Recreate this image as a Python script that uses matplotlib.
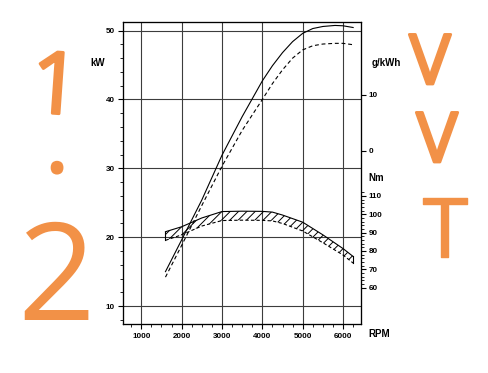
"""
plot.py - engine performance chart (power and torque over RPM).

Recreates a scanned spec-sheet chart: two power curves on the kW axis,
a hatched torque band on the Nm axis, and the handwritten "1.2 VVT" note.
"""

# === DECLARE IMPORTS ===

import matplotlib

matplotlib.use("Agg")

import matplotlib.patheffects as pe
import matplotlib.pyplot as plt
from matplotlib.ticker import FixedLocator, MultipleLocator

# === CHART DATA ===

power_rpm = [1600, 2000, 2500, 3000, 3500, 4000, 4250, 4500, 4750, 5000,
             5250, 5500, 5800, 6000, 6250]
power_solid = [15.0, 19.6, 25.4, 31.9, 37.5, 42.7, 44.9, 46.8, 48.4, 49.6,
               50.3, 50.6, 50.75, 50.7, 50.45]
power_dashed = [14.2, 18.8, 24.6, 30.3, 35.5, 40.0, 42.3, 44.3, 46.0, 47.2,
                47.8, 48.05, 48.15, 48.15, 47.95]

torque_rpm = [1600, 2000, 2500, 3000, 3500, 4000, 4250, 4500, 5000, 5500,
              6000, 6250]
torque_upper = [90.5, 93.2, 98.0, 101.5, 101.7, 101.6, 101.2, 99.6, 95.7,
                88.8, 81.3, 77.0]
torque_lower = [85.8, 88.8, 93.6, 96.6, 96.8, 96.7, 96.4, 95.0, 90.9, 84.5,
                77.8, 73.4]

rpm_ticks = [1000, 2000, 3000, 4000, 5000, 6000]
kw_ticks = [10, 20, 30, 40, 50]
nm_ticks = [60, 70, 80, 90, 100, 110]
fuel_ticks = [0, 10]

note_left = ["1", ".", "2"]
note_right = ["V", "V", "T"]

# === STYLE ===

W, H = 488, 373
ORANGE = "#F29147"
GRID = "#3c3c3c"

plt.rcParams["font.family"] = ["Liberation Sans", "DejaVu Sans"]
plt.rcParams["font.weight"] = "bold"
plt.rcParams["hatch.linewidth"] = 0.7


def fx(px: float) -> float:
    return px / W


def fy(py: float) -> float:
    return 1 - py / H


def main() -> None:
    fig = plt.figure(figsize=(W / 100, H / 100), dpi=100)
    ax = fig.add_axes([fx(122.7), fy(324.3), fx(361) - fx(122.7), fy(22) - fy(324.3)])
    ax_nm = ax.twinx()
    ax_fuel = ax.twinx()

    # ------------------------------------------------
    # kW axis, grid and power curves
    # ------------------------------------------------
    ax.set_xlim(540, 6445)
    ax.set_ylim(7.35, 51.25)
    ax.xaxis.set_major_locator(FixedLocator(rpm_ticks))
    ax.xaxis.set_minor_locator(MultipleLocator(250))
    ax.yaxis.set_major_locator(FixedLocator(kw_ticks))
    ax.yaxis.set_minor_locator(MultipleLocator(2))

    for r in rpm_ticks:
        ax.axvline(r, color=GRID, lw=0.8, zorder=1)
    for k in kw_ticks:
        ax.axhline(k, color=GRID, lw=0.8, zorder=1)

    ax.plot(power_rpm, power_solid, color="black", lw=0.8, zorder=3)
    ax.plot(power_rpm, power_dashed, color="black", lw=0.8,
            dashes=(3.5, 2.5), zorder=3)

    # ------------------------------------------------
    # Nm axis and hatched torque band
    # ------------------------------------------------
    ax_nm.set_ylim(40.0, 204.9)
    ax_nm.yaxis.set_major_locator(FixedLocator(nm_ticks))
    ax_nm.yaxis.set_minor_locator(FixedLocator(range(60, 113, 2)))

    ax_nm.fill_between(torque_rpm, torque_lower, torque_upper,
                       facecolor="none", edgecolor="black", hatch="////",
                       linewidth=0)
    ax_nm.plot(torque_rpm, torque_upper, color="black", lw=0.8)
    ax_nm.plot(torque_rpm, torque_lower, color="black", lw=0.8, dashes=(3, 2))
    for i in (0, -1):
        ax_nm.plot([torque_rpm[i], torque_rpm[i]],
                   [torque_lower[i], torque_upper[i]], color="black", lw=0.8)

    # ------------------------------------------------
    # g/kWh axis (ticks only)
    # ------------------------------------------------
    ax_fuel.set_ylim(-31.17, 23.1)
    ax_fuel.yaxis.set_major_locator(FixedLocator(fuel_ticks))
    ax_fuel.yaxis.set_minor_locator(FixedLocator([]))

    # ------------------------------------------------
    # ticks and frame
    # ------------------------------------------------
    for a in (ax, ax_nm, ax_fuel):
        a.tick_params(which="major", direction="out", length=3.5, width=0.8,
                      labelsize=5.8, pad=2, colors="black")
        a.tick_params(which="minor", direction="out", length=2, width=0.6)
        for s in a.spines.values():
            s.set_linewidth(0.8)
            s.set_color("black")
    ax.tick_params(axis="y", which="both", right=False)
    ax.tick_params(axis="x", pad=3)

    # ------------------------------------------------
    # axis unit labels
    # ------------------------------------------------
    fig.text(fx(98), fy(63), "kW", fontsize=7, ha="center", va="center")
    fig.text(fx(372), fy(63), "g/kWh", fontsize=7, ha="left", va="center")
    fig.text(fx(368), fy(178), "Nm", fontsize=7, ha="left", va="center")
    fig.text(fx(368), fy(334), "RPM", fontsize=7, ha="left", va="center")

    # ------------------------------------------------
    # handwritten note
    # ------------------------------------------------
    hand = dict(color=ORANGE, family="Open Sans", fontweight="normal",
                ha="center", va="baseline")
    # x, baseline y, size, rotation, extra stroke width
    left_pos = [(55, 115, 62, -4, 2), (57, 172, 62, 0, 2), (56, 320, 98, 0, 0)]
    for ch, (x, y, size, rot, lw) in zip(note_left, left_pos):
        fx_ = [pe.withStroke(linewidth=lw, foreground=ORANGE,
                             capstyle="round", joinstyle="round")] if lw else []
        fig.text(fx(x), fy(y), ch, fontsize=size, rotation=rot,
                 path_effects=fx_, **hand)
    right_pos = [(430, 84, 50, 0, 2), (437, 162, 50, 0, 2), (445, 257, 60, 0, 1)]
    for ch, (x, y, size, rot, lw) in zip(note_right, right_pos):
        fx_ = [pe.withStroke(linewidth=lw, foreground=ORANGE,
                             capstyle="round", joinstyle="round")]
        fig.text(fx(x), fy(y), ch, fontsize=size, rotation=rot,
                 path_effects=fx_, **hand)

    fig.savefig("out.png", dpi=100)
    plt.close(fig)


# === CONDITIONAL EXECUTION GUARD ===

if __name__ == "__main__":
    main()
